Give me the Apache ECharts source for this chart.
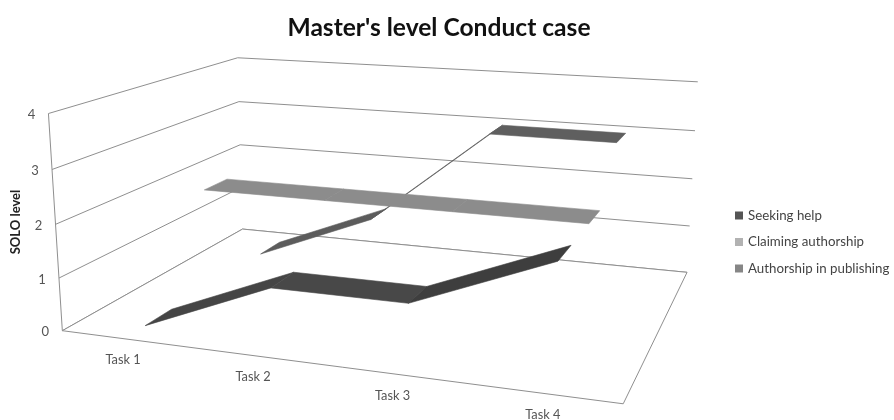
<!DOCTYPE html>
<html>
<head>
<meta charset="utf-8">
<style>html,body{margin:0;padding:0;background:#fff}#chart{width:894px;height:420px}</style>
<script src="https://cdn.jsdelivr.net/npm/echarts@6/dist/echarts.min.js"></script>
</head>
<body>
<div id="chart"></div>
<script>
// Chart content
const chartTitle = "Master's level Conduct case";
const yAxisTitle = 'SOLO level';
const categories = ['Task 1', 'Task 2', 'Task 3', 'Task 4'];
const yTicks = [0, 1, 2, 3, 4];
const seekingHelp = [0, 1, 1, 2];
const claimingAuthorship = [2, 2, 2, 2];
const authorshipInPublishing = [0, 1, 3, 3];

// Fonts and colours
const FONT = 'Lato, "Open Sans", sans-serif';
const LINE = '#8f8f8f';
const TEXT = '#555555';

// Ribbon depth: each series takes a third of the floor, with a 150% depth gap
const SERIES_COUNT = 3;
const RIBBON_SHARE = 0.4;

// Perspective camera calibrated from the plot box corners.
// Each row is: [along categories, depth, height] -> [screen x, screen y]
const boxCorners = [
  [0, 0, 0, 62, 331], [1, 0, 0, 623, 404], [1, 1, 0, 687, 272], [0, 1, 0, 243, 229],
  [0, 0, 1, 49, 113], [0, 1, 1, 237, 58], [1, 1, 1, 698, 82]
];

function solveLinear(A, b) {
  const n = b.length, M = A.map((r, i) => r.concat(b[i]));
  for (let c = 0; c < n; c++) {
    let p = c;
    for (let r = c + 1; r < n; r++) if (Math.abs(M[r][c]) > Math.abs(M[p][c])) p = r;
    [M[c], M[p]] = [M[p], M[c]];
    for (let r = 0; r < n; r++) {
      if (r === c) continue;
      const f = M[r][c] / M[c][c];
      for (let k = c; k <= n; k++) M[r][k] -= f * M[c][k];
    }
  }
  return M.map((r, i) => r[n] / r[i]);
}

function fitCamera(rows) {
  const eq = [], rhs = [];
  rows.forEach(([a, b, c, X, Y]) => {
    eq.push([a, b, c, 1, 0, 0, 0, 0, -X * a, -X * b, -X * c]); rhs.push(X);
    eq.push([0, 0, 0, 0, a, b, c, 1, -Y * a, -Y * b, -Y * c]); rhs.push(Y);
  });
  const N = eq[0].map((_, i) => eq[0].map((_, j) => eq.reduce((s, r) => s + r[i] * r[j], 0)));
  const t = eq[0].map((_, i) => eq.reduce((s, r, k) => s + r[i] * rhs[k], 0));
  return solveLinear(N, t);
}

const cam = fitCamera(boxCorners);
function project(a, b, c) {
  const w = cam[8] * a + cam[9] * b + cam[10] * c + 1;
  return [
    (cam[0] * a + cam[1] * b + cam[2] * c + cam[3]) / w,
    (cam[4] * a + cam[5] * b + cam[6] * c + cam[7]) / w
  ];
}

// Converts a data value pair into the unit box through the grid's own scales
function toUnit(api, cs, cat, val) {
  const p = api.coord([cat, val]);
  return [(p[0] - cs.x) / cs.width, (cs.y + cs.height - p[1]) / cs.height];
}

// Nearer series sit on top, so the slot decides the stacking order
function ribbonSeries(name, values, slot, legendColor, segmentColors) {
  const centre = (slot + 0.5) / SERIES_COUNT;
  const half = RIBBON_SHARE / SERIES_COUNT / 2;
  return {
    name, type: 'custom', silent: true, z: 6 - slot,
    itemStyle: { color: legendColor },
    data: values.map((v, i) => [i, v]),
    renderItem(params, api) {
      const i = params.dataIndex;
      if (i >= values.length - 1) return null;
      const cs = params.coordSys;
      const a = toUnit(api, cs, i, values[i]);
      const b = toUnit(api, cs, i + 1, values[i + 1]);
      const color = segmentColors[i];
      return {
        type: 'polygon',
        shape: { points: [
          project(a[0], centre - half, a[1]),
          project(b[0], centre - half, b[1]),
          project(b[0], centre + half, b[1]),
          project(a[0], centre + half, a[1])
        ] },
        style: { fill: color, stroke: color, lineWidth: 0.6 }
      };
    }
  };
}

function frameSeries() {
  return {
    name: 'frame', type: 'custom', silent: true, z: 1,
    data: [[0, 0]],
    renderItem(params, api) {
      const cs = params.coordSys;
      const kids = [];
      const line = (pts, closed) => kids.push({
        type: closed ? 'polygon' : 'polyline',
        shape: { points: pts },
        style: { fill: closed ? '#fff' : null, stroke: LINE, lineWidth: 1 }
      });
      const label = (text, x, y, size) => kids.push({
        type: 'text', x, y,
        style: { text, fill: TEXT, font: size + 'px ' + FONT, textAlign: 'center', textVerticalAlign: 'middle' }
      });

      yTicks.forEach(t => {
        const v = toUnit(api, cs, 0, t)[1];
        line([project(0, 0, v), project(0, 1, v), project(1, 1, v)]);
        const p = project(0, 0, v);
        label(String(t), p[0] - 17, p[1] + 1.5, 13);
      });
      const top = toUnit(api, cs, 0, yTicks[yTicks.length - 1])[1];
      line([project(0, 0, 0), project(0, 0, top)]);
      line([project(0, 0, 0), project(1, 0, 0), project(1, 1, 0), project(0, 1, 0)], true);

      categories.forEach((c, i) => {
        const u = toUnit(api, cs, i, 0)[0];
        const p = project(u, 0, 0);
        label(c, p[0] - 1, p[1] + 21.5, 12.8);
      });

      kids.push({
        type: 'text', x: 16, y: 222, rotation: Math.PI / 2,
        style: { text: yAxisTitle, fill: '#222', font: 'bold 13px ' + FONT, textAlign: 'center', textVerticalAlign: 'middle' }
      });
      return { type: 'group', children: kids };
    }
  };
}

const chart = echarts.init(document.getElementById('chart'), null, { renderer: 'canvas' });
chart.setOption({
  animation: false,
  backgroundColor: '#ffffff',
  title: {
    text: chartTitle, left: 439, top: 11, textAlign: 'center',
    textStyle: { fontFamily: FONT, fontWeight: 'bold', fontSize: 24.6, color: '#111' }
  },
  legend: {
    orient: 'vertical', left: 730, top: 204,
    itemWidth: 8, itemHeight: 8, itemGap: 13.5,
    icon: 'rect',
    data: ['Seeking help', 'Claiming authorship', 'Authorship in publishing'],
    textStyle: { fontFamily: FONT, fontSize: 13.3, color: '#444', padding: [0, 0, 0, 0] }
  },
  grid: { left: 100, right: 200, top: 80, bottom: 80 },
  xAxis: { type: 'category', data: categories, show: false },
  yAxis: { type: 'value', min: 0, max: 4, interval: 1, show: false },
  series: [
    frameSeries(),
    ribbonSeries('Seeking help', seekingHelp, 0, '#555555', ['#454545', '#484848', '#3e3e3e']),
    ribbonSeries('Claiming authorship', claimingAuthorship, 1, '#b2b2b2', ['#8c8c8c', '#8c8c8c', '#8c8c8c']),
    ribbonSeries('Authorship in publishing', authorshipInPublishing, 2, '#868686', ['#5c5c5c', '#5c5c5c', '#5f5f5f'])
  ].map(s => s)
});
// Title is centred over the text block rather than the plot
chart.setOption({ title: { left: 439 - 5 } });
</script>
</body>
</html>
